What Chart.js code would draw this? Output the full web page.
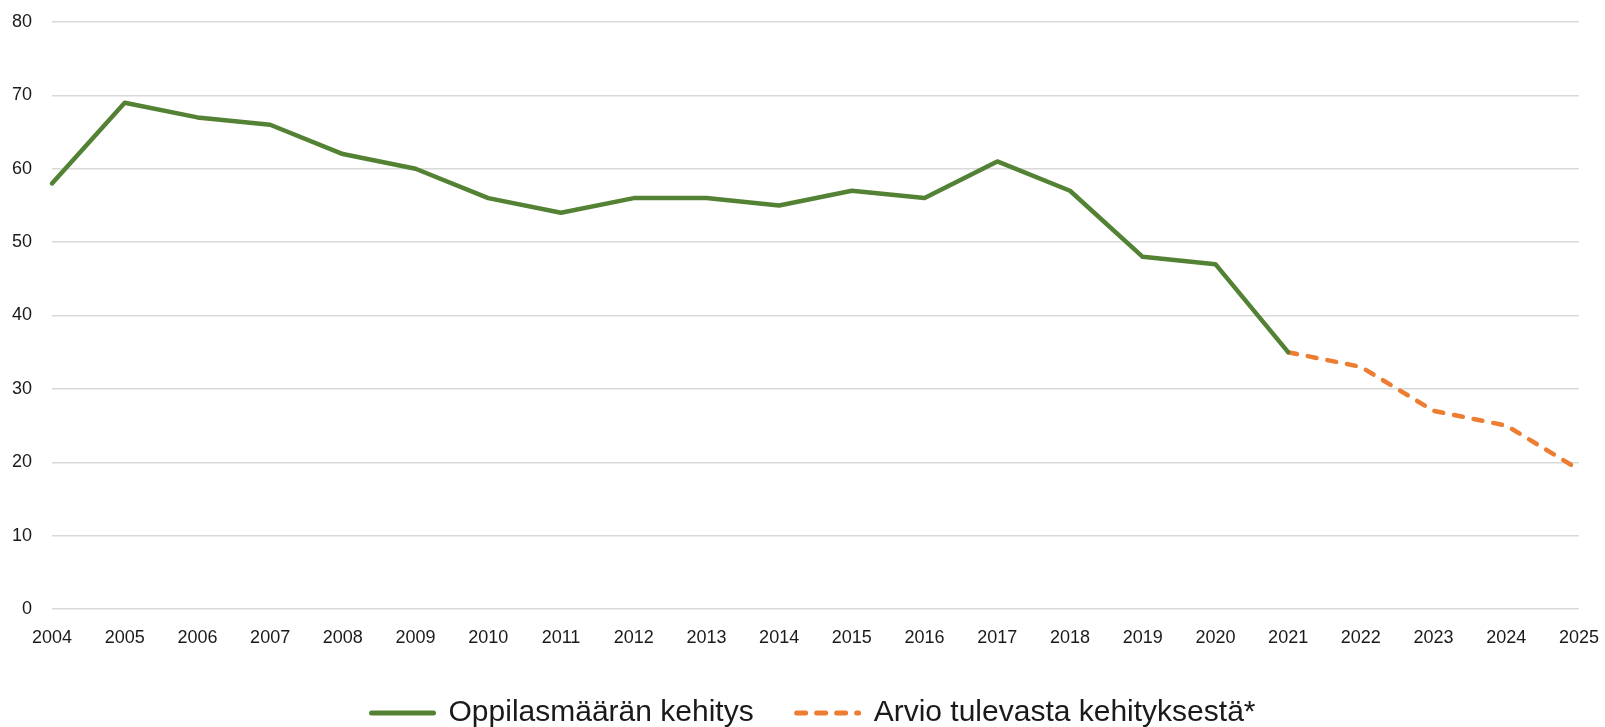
<!DOCTYPE html>
<html>
<head>
<meta charset="utf-8">
<script src="https://cdn.jsdelivr.net/npm/chart.js@4"></script>
<style>
  html, body { margin: 0; padding: 0; background: #fff; }
  #wrap { width: 1605px; height: 727px; }
</style>
</head>
<body>
<div id="wrap"><canvas id="chart" width="1605" height="727"></canvas></div>
<script>
const years = ["2004", "2005", "2006", "2007", "2008", "2009", "2010", "2011", "2012", "2013", "2014",
  "2015", "2016", "2017", "2018", "2019", "2020", "2021", "2022", "2023", "2024", "2025"];

// toteutunut oppilasmäärä 2004-2021
const actual = [58, 69, 67, 66, 62, 60, 56, 54, 56, 56, 55, 57, 56, 61, 57, 48, 47, 35,
  null, null, null, null];

// arvio 2021-2025
const forecast = [null, null, null, null, null, null, null, null, null, null, null, null,
  null, null, null, null, null, 35, 33, 27, 25, 19];

const yTicks = [0, 10, 20, 30, 40, 50, 60, 70, 80];

const labelFont = "'Liberation Sans', Arial, sans-serif";

// siirtää selitettä hieman oikealle, kuten alkuperäisessä
const legendShift = {
  id: "legendShift",
  afterLayout(chart) {
    if (chart.legend) {
      chart.legend.left += 24;
      chart.legend.right += 24;
    }
  }
};

new Chart(document.getElementById("chart"), {
  type: "line",
  data: {
    labels: years,
    datasets: [
      {
        label: "Oppilasmäärän kehitys",
        data: actual,
        borderColor: "#548235",
        backgroundColor: "#548235",
        borderWidth: 4.5,
        pointRadius: 0,
        tension: 0,
        borderCapStyle: "round",
        borderJoinStyle: "round",
        pointStyle: "line"
      },
      {
        label: "Arvio tulevasta kehityksestä*",
        data: forecast,
        borderColor: "#ED7D31",
        backgroundColor: "#ED7D31",
        borderWidth: 4.5,
        borderDash: [9, 11],
        borderCapStyle: "round",
        pointRadius: 0,
        tension: 0,
        pointStyle: "line"
      }
    ]
  },
  plugins: [legendShift],
  options: {
    responsive: false,
    animation: false,
    layout: { padding: { top: 22, right: 26, left: 0, bottom: -11 } },
    plugins: {
      tooltip: { enabled: false },
      legend: {
        position: "bottom",
        labels: {
          usePointStyle: true,
          pointStyleWidth: 62,
          padding: 43,
          color: "#1a1a1a",
          font: { family: labelFont, size: 30 },
          generateLabels: function(chart) {
            const items = Chart.defaults.plugins.legend.labels.generateLabels(chart);
            items.forEach(function(item) {
              const ds = chart.data.datasets[item.datasetIndex];
              item.lineDash = ds.borderDash || [];
              item.lineWidth = 5;
              item.lineCap = "round";
              item.strokeStyle = ds.borderColor;
            });
            return items;
          }
        }
      }
    },
    scales: {
      x: {
        grid: { display: false, drawTicks: false },
        border: { display: false },
        ticks: {
          color: "#1a1a1a",
          font: { family: labelFont, size: 18 },
          padding: 18,
          maxRotation: 0,
          autoSkip: false
        },
        afterFit: function(scale) {
          scale.height = 46;
          scale.paddingLeft = 0;
          scale.paddingRight = 0;
        }
      },
      y: {
        min: 0,
        max: 80,
        afterBuildTicks: function(scale) {
          scale.ticks = yTicks.map(v => ({ value: v }));
        },
        grid: { color: "#d9d9d9", lineWidth: 1.5, drawTicks: false },
        border: { display: false },
        ticks: {
          color: "#1a1a1a",
          font: { family: labelFont, size: 18 },
          padding: 20
        },
        afterFit: function(scale) {
          scale.width = 52;
          scale.paddingTop = 0;
          scale.paddingBottom = 0;
        }
      }
    }
  }
});
</script>
</body>
</html>
